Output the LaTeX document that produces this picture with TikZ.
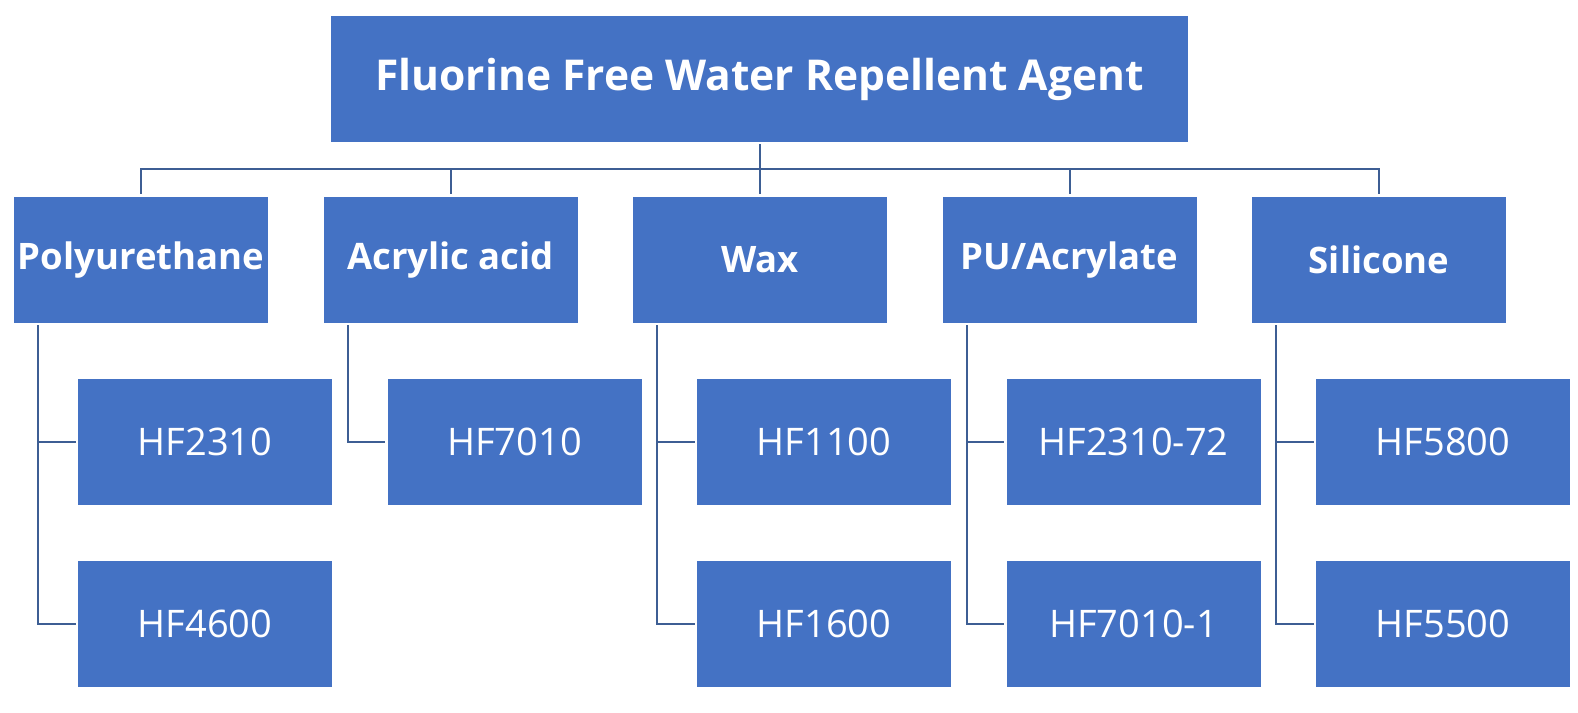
\documentclass[tikz,border=0pt]{standalone}
\usepackage{fontspec}
\setmainfont{Open Sans}
\usepackage{xcolor}
\definecolor{boxblue}{HTML}{4472C4}
\definecolor{linkblue}{HTML}{3D5E94}
\tikzset{
  topbox/.style={fill=boxblue, text=white, inner sep=0pt, minimum width=857pt,
    minimum height=126pt, font=\fontsize{42.5}{48}\selectfont\bfseries},
  catbox/.style={fill=boxblue, text=white, inner sep=0pt, minimum width=254pt,
    minimum height=126pt, font=\fontsize{36.5}{42}\selectfont\bfseries},
  itembox/.style={fill=boxblue, text=white, inner sep=0pt, minimum width=254pt,
    minimum height=126pt, font=\fontsize{38}{44}\selectfont},
  link/.style={draw=linkblue, line width=2pt, shorten <=2pt, shorten >=2pt}
}
\begin{document}
\begin{tikzpicture}[x=1pt,y=1pt]
        \useasboundingbox (0,0) rectangle (1578,712);

        % root
        \node[topbox] (root) at (759.5,633) {Fluorine Free Water Repellent Agent};

        % categories
        \node[catbox] (poly) at (141,452) {Polyurethane};
        \node[catbox] (acryl) at (450.5,452) {Acrylic acid};
        \node[catbox] (wax) at (760,452) {Wax};
        \node[catbox] (pua) at (1069.5,452) {PU/Acrylate};
        \node[catbox] (sili) at (1379,452) {Silicone};

        % products
        \node[itembox] (hfa) at (205,270) {HF2310};
        \node[itembox] (hfb) at (205,88) {HF4600};
        \node[itembox] (hfc) at (514.5,270) {HF7010};
        \node[itembox] (hfd) at (824,270) {HF1100};
        \node[itembox] (hfe) at (824,88) {HF1600};
        \node[itembox] (hff) at (1133.5,270) {HF2310-72};
        \node[itembox] (hfg) at (1133.5,88) {HF7010-1};
        \node[itembox] (hfh) at (1443,270) {HF5800};
        \node[itembox] (hfi) at (1443,88) {HF5500};

        % root to categories
        \foreach \c in {poly,acryl,wax,pua,sili}
            \draw[link, shorten >=3pt] (root.south) -- ++(0,-27) -| (\c.north);

        % categories to products
        \draw[link] ([xshift=24.5pt]poly.south west) |- (hfa.west);
        \draw[link] ([xshift=24.5pt]poly.south west) |- (hfb.west);
        \draw[link] ([xshift=24.5pt]acryl.south west) |- (hfc.west);
        \draw[link] ([xshift=24.5pt]wax.south west) |- (hfd.west);
        \draw[link] ([xshift=24.5pt]wax.south west) |- (hfe.west);
        \draw[link] ([xshift=24.5pt]pua.south west) |- (hff.west);
        \draw[link] ([xshift=24.5pt]pua.south west) |- (hfg.west);
        \draw[link] ([xshift=24.5pt]sili.south west) |- (hfh.west);
        \draw[link] ([xshift=24.5pt]sili.south west) |- (hfi.west);

    \end{tikzpicture}
\end{document}
